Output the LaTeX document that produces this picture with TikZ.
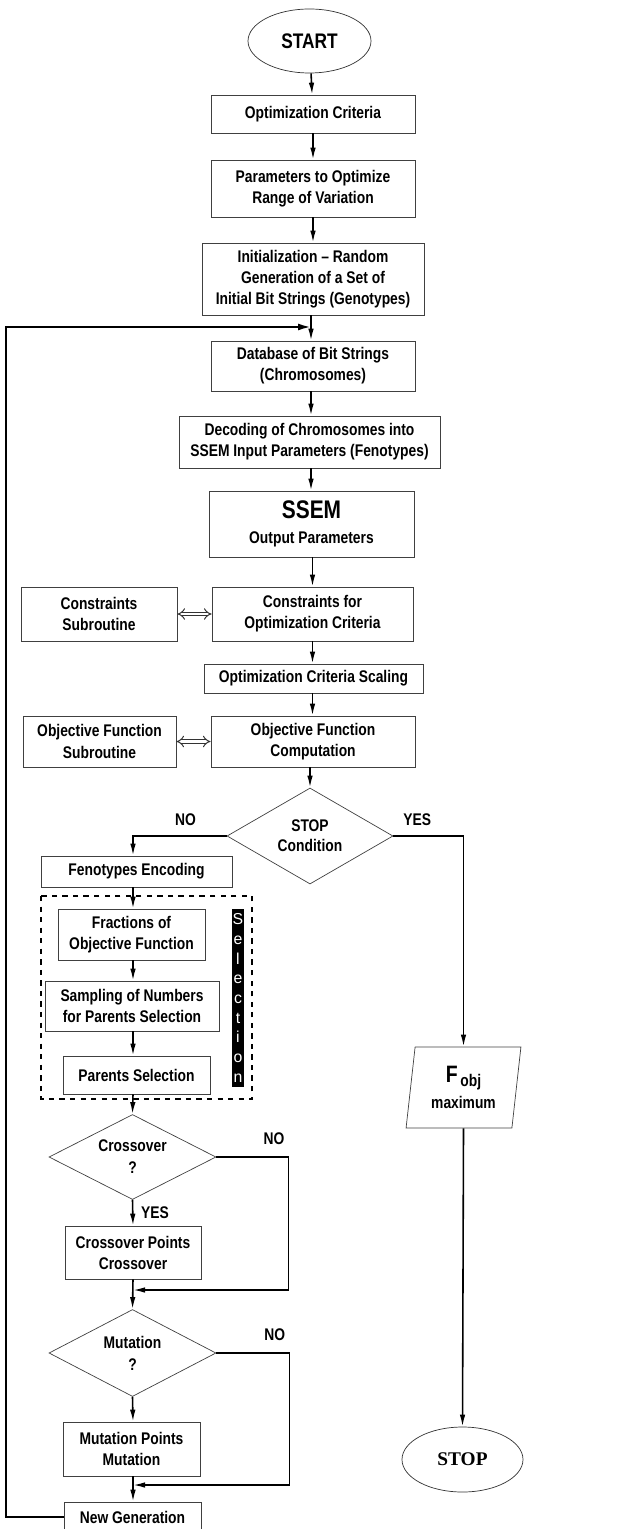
\documentclass[tikz,border=0pt]{standalone}
\usepackage{fontspec}
\setmainfont{Liberation Sans}
\newfontfamily\narrowfont{Liberation Sans}[FakeStretch=0.82]
\newfontfamily\stopfont{Liberation Serif}
\usepackage{tikz}
\usetikzlibrary{arrows.meta,positioning,calc,shapes.geometric}

\begin{document}
\begin{tikzpicture}[
  block/.style={draw=black!75, align=center, inner sep=1pt, font=\narrowfont\bfseries\fontsize{9.6}{12}\selectfont},
  terminal/.style={ellipse, draw=black!80, align=center, inner sep=0pt, font=\narrowfont\bfseries\fontsize{12}{14}\selectfont},
  decision/.style={diamond, draw=black!75, aspect=1.8, inner sep=0pt, align=center, font=\narrowfont\bfseries\fontsize{9.6}{11.5}\selectfont},
  line/.style={-{Latex[length=2.4mm,width=1.1mm]}, line width=0.9pt},
  loop/.style={-{Latex[length=2.6mm,width=1.4mm]}, line width=1.2pt},
  twoway/.style={double=white, draw=black!80, line width=0.55pt, double distance=1.7pt, {Implies}-{Implies}},
  note/.style={font=\narrowfont\bfseries\fontsize{9.6}{12}\selectfont}
]
\useasboundingbox (0,0) rectangle (12.8,-30.58);

% main column
\node[terminal, minimum width=2.46cm, minimum height=1.28cm] (start) at (6.19,-0.82) {START};
\node[block, minimum width=4.08cm, minimum height=0.76cm] (optcrit) at (6.26,-2.28) {Optimization Criteria};
\node[block, minimum width=4.08cm, minimum height=1.14cm] (params) at (6.26,-3.77) {Parameters to Optimize\\Range of Variation};
\node[block, minimum width=4.44cm, minimum height=1.44cm] (init) at (6.26,-5.58) {Initialization – Random\\Generation of a Set of\\Initial Bit Strings (Genotypes)};
\node[block, minimum width=4.08cm, minimum height=1.00cm] (database) at (6.26,-7.32) {Database of Bit Strings\\(Chromosomes)};
\node[block, minimum width=5.22cm, minimum height=1.04cm] (decoding) at (6.19,-8.84) {Decoding of Chromosomes into\\SSEM Input Parameters (Fenotypes)};
\node[block, minimum width=4.10cm, minimum height=1.32cm] (ssem) at (6.23,-10.48) {{\fontsize{14.5}{16}\selectfont SSEM}\\[2pt]Output Parameters};
\node[block, minimum width=4.02cm, minimum height=1.08cm] (constr) at (6.25,-12.28) {Constraints for\\Optimization Criteria};
\node[block, minimum width=3.12cm, minimum height=1.08cm] (constrsub) at (1.98,-12.28) {Constraints\\Subroutine};
\node[block, minimum width=4.38cm, minimum height=0.58cm] (scaling) at (6.27,-13.57) {Optimization Criteria Scaling};
\node[block, minimum width=4.08cm, minimum height=1.02cm] (objfun) at (6.26,-14.83) {Objective Function\\Computation};
\node[block, minimum width=3.06cm, minimum height=1.02cm] (objsub) at (1.99,-14.83) {Objective Function\\Subroutine};
\node[decision, minimum width=3.32cm, minimum height=1.92cm] (stopcond) at (6.20,-16.72) {STOP\\Condition};

% left column
\node[block, minimum width=3.82cm, minimum height=0.62cm] (fenot) at (2.73,-17.43) {Fenotypes Encoding};
\node[block, minimum width=2.94cm, minimum height=1.02cm] (fractions) at (2.63,-18.69) {Fractions of\\Objective Function};
\node[block, minimum width=3.48cm, minimum height=1.00cm] (sampling) at (2.64,-20.12) {Sampling of Numbers\\for Parents Selection};
\node[block, minimum width=2.94cm, minimum height=0.76cm] (parents) at (2.73,-21.50) {Parents Selection};
\node[fill=black, text=white, inner sep=0pt, minimum width=0.25cm, minimum height=3.56cm, align=center,
  font=\fontsize{9}{11.2}\selectfont] (selbar) at (4.76,-19.96) {S\\e\\l\\e\\c\\t\\i\\o\\n};
\draw[dashed, line width=0.9pt] (0.82,-17.92) rectangle (5.04,-21.98);
\node[decision, minimum width=3.34cm, minimum height=1.70cm, font=\narrowfont\bfseries\fontsize{9.6}{12.5}\selectfont] (crossq) at (2.65,-23.14) {Crossover\\?};
\node[block, minimum width=2.72cm, minimum height=1.06cm] (crosspts) at (2.66,-25.05) {Crossover Points\\Crossover};
\node[decision, minimum width=3.34cm, minimum height=1.74cm, font=\narrowfont\bfseries\fontsize{9.6}{12.5}\selectfont] (mutq) at (2.65,-27.06) {Mutation\\?};
\node[block, minimum width=2.74cm, minimum height=1.08cm] (mutpts) at (2.63,-28.98) {Mutation Points\\Mutation};
\node[block, minimum width=2.74cm, minimum height=0.60cm] (newgen) at (2.65,-30.34) {New Generation};

% right column
\node[trapezium, trapezium left angle=82, trapezium right angle=98, trapezium stretches=true, draw=black!75,
  minimum width=2.30cm, minimum height=1.62cm, align=center, inner sep=0pt,
  font=\narrowfont\bfseries\fontsize{9.6}{12}\selectfont] (fobj) at (9.27,-21.75)
  {{\fontsize{13.5}{14}\selectfont F}\,\raisebox{-2.5pt}{obj}\\[3pt]maximum};
\node[terminal, minimum width=2.42cm, minimum height=1.30cm, font=\stopfont\bfseries\fontsize{11}{13}\selectfont] (stop) at (9.25,-29.19) {STOP};

\coordinate (loopin) at (6.22,-6.54);
\coordinate (loopleft) at (0.12,-6.54);
\coordinate (merge1) at (2.66,-25.80);
\coordinate (merge2) at (2.66,-29.70);

\draw[line] (start) -- (optcrit);
\draw[line] (optcrit) -- (params);
\draw[line] (params.south -| optcrit) -- (init.north -| optcrit);
\draw[line] (init.south -| loopin) -- (database.north -| loopin);
\draw[line] (database.south -| loopin) -- (decoding.north -| loopin);
\draw[line] (decoding.south -| loopin) -- (ssem.north -| loopin);
\draw[line] (ssem.south -| constr) -- (constr.north);
\draw[line] (constr.south) -- (scaling.north -| constr);
\draw[line] (scaling.south -| constr) -- (objfun.north -| constr);
\draw[line] (objfun.south -| stopcond) -- (stopcond.north);
\draw[twoway] (constrsub.east) -- (constr.west);
\draw[twoway] (objsub.east) -- (objfun.west);

\draw[line] (stopcond.west) -| node[note, pos=0.22, above=2pt] {NO} (fenot.north -| merge1);
\draw[line] (stopcond.east) -| node[note, pos=0.17, above=2pt] {YES} (fobj.north);
\draw[line] (fobj.south) -- (stop.north);

\draw[line] (fenot.south -| merge1) -- (fractions.north -| merge1);
\draw[line] (fractions.south -| merge1) -- (sampling.north -| merge1);
\draw[line] (sampling.south -| merge1) -- (parents.north -| merge1);
\draw[line] (parents.south -| merge1) -- (crossq.north);
\draw[line] (crossq.south) -- node[note, right=1pt] {YES} (crosspts.north -| merge1);
\draw[line] (crosspts.south -| merge1) -- (mutq.north);
\draw[line] (crossq.east) -- node[note, above=3pt, pos=0.8] {NO} ++(1.44,0) |- (merge1);
\draw[line] (mutq.south) -- (mutpts.north -| merge1);
\draw[line] (mutpts.south -| merge1) -- (newgen.north -| merge1);
\draw[line] (mutq.east) -- node[note, above=3pt, pos=0.8] {NO} ++(1.46,0) |- (merge2);

% back to the database
\draw[loop] (newgen.west) -| (loopleft) -- (loopin);
\end{tikzpicture}
\end{document}
